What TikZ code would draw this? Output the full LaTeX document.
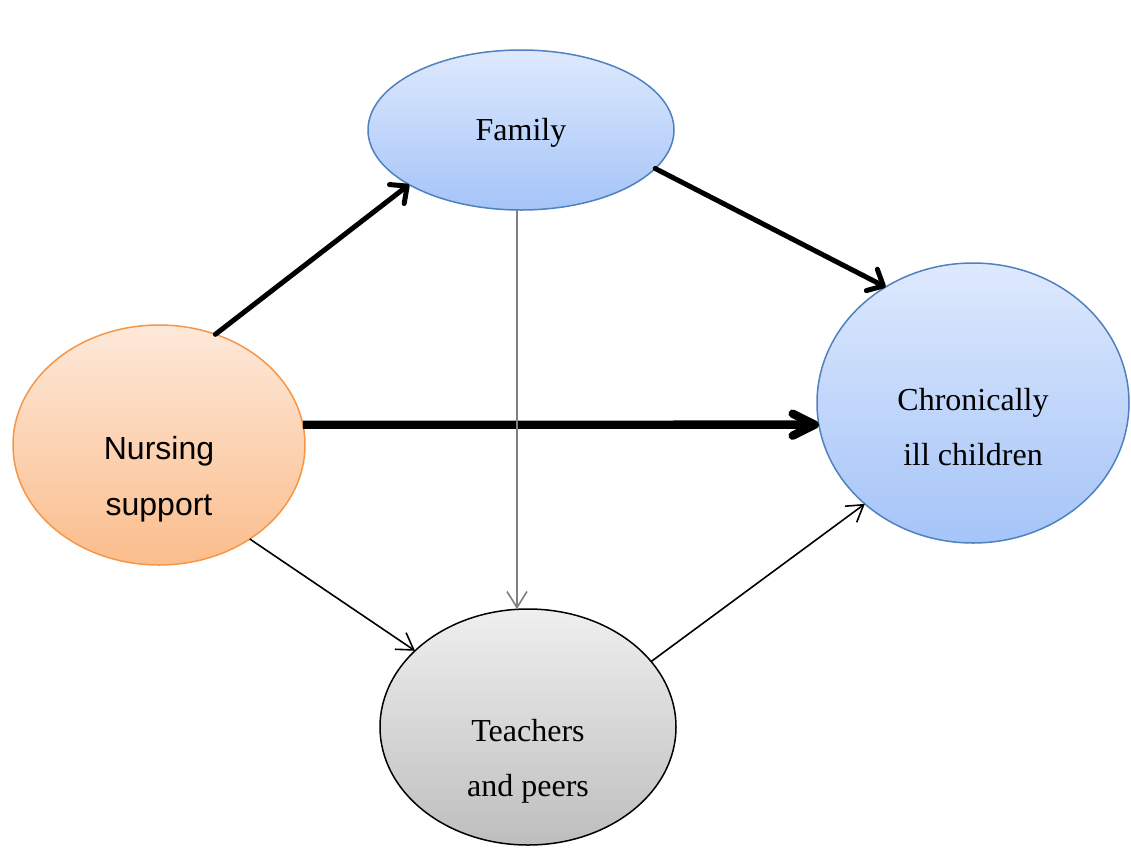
\documentclass[tikz,border=0pt]{standalone}
\usepackage{fontspec}
\setmainfont{Liberation Serif}
\newfontfamily\arialfam{Liberation Sans}
\usetikzlibrary{shapes.geometric,arrows.meta}

\definecolor{bluetop}{RGB}{222,233,253}
\definecolor{bluebot}{RGB}{165,196,248}
\definecolor{blueedge}{RGB}{79,129,189}
\definecolor{orangetop}{RGB}{253,233,218}
\definecolor{orangebot}{RGB}{251,189,140}
\definecolor{orangeedge}{RGB}{247,150,70}
\definecolor{greytop}{RGB}{239,239,239}
\definecolor{greybot}{RGB}{190,190,190}

\begin{document}
\begin{tikzpicture}[x=0.5pt,y=-0.5pt,
  blob/.style={ellipse,inner sep=0pt,outer sep=0pt,line width=0.75pt},
  bluebox/.style={blob,draw=blueedge,top color=bluetop,bottom color=bluebot},
  orangebox/.style={blob,draw=orangeedge,top color=orangetop,bottom color=orangebot},
  greybox/.style={blob,draw=black,top color=greytop,bottom color=greybot},
  lbl/.style={align=center,font=\fontsize{16}{27.5}\selectfont},
  heavy/.style={line width=2.5pt,line cap=round,-{Straight Barb[length=6.5pt,width=12pt,round]}},
  heaviest/.style={line width=4.2pt,-{Straight Barb[length=11pt,width=11pt,round]}},
  light/.style={line width=0.8pt,-{Straight Barb[length=8pt,width=10pt]}}]
\useasboundingbox (0,0) rectangle (1131,847);

% ellipses
\node[bluebox,minimum width=153pt,minimum height=80pt] (fam) at (521,130) {};
\node[orangebox,minimum width=146pt,minimum height=120pt] (nurse) at (159,445) {};
\node[bluebox,minimum width=156pt,minimum height=140pt] (chron) at (973,403) {};
\node[greybox,minimum width=148pt,minimum height=118pt] (teach) at (528,727) {};

% labels
\node[lbl] (fam-t) at (521,133) {Family};
\node[lbl,font=\arialfam\fontsize{16}{28}\selectfont] (nurse-t) at (159,479) {Nursing\\support};
\node[lbl] (chron-t) at (973,427) {Chronically\\ill children};
\node[lbl] (teach-t) at (528,761) {Teachers\\and peers};

% arrows
\draw[heavy] (nurse.63) -- (fam.206);
\draw[heavy] (fam.344) -- (chron.127);
\draw[heaviest] (nurse.8) -- (chron.188);
\draw[light,draw=gray] ([xshift=-2pt]fam.south) -- ([xshift=-2pt]fam.south |- teach.north);
\draw[light] (nurse.314) -- (teach.146);
\draw[light] (teach.28) -- (chron.223);
\end{tikzpicture}
\end{document}
